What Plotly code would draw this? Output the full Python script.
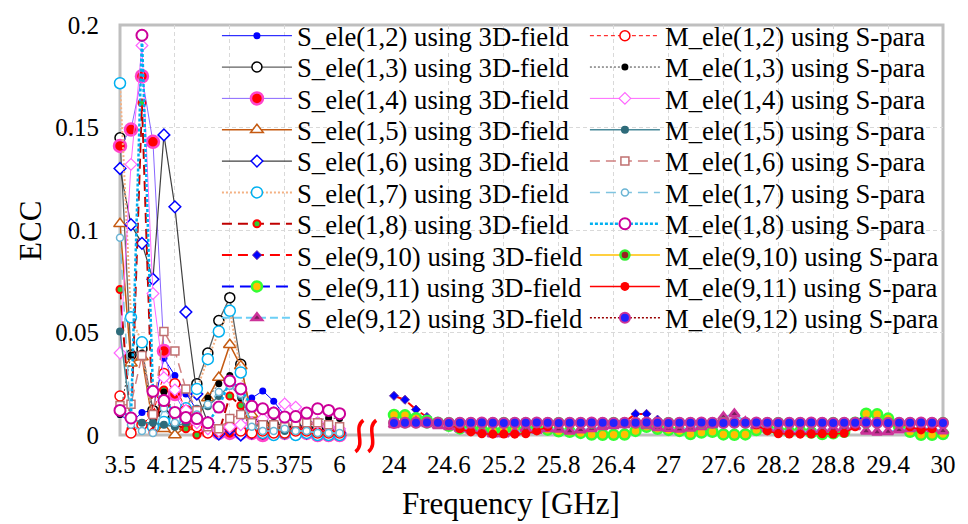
import plotly.graph_objects as go

# ---------------- data ----------------
x_low = [3.5, 3.625, 3.75, 3.875, 4.0, 4.125, 4.25, 4.375, 4.5, 4.625, 4.75,
         4.875, 5.0, 5.125, 5.25, 5.375, 5.5, 5.625, 5.75, 5.875, 6.0]
x_high = [24.0, 24.12, 24.24, 24.36, 24.48, 24.6, 24.72, 24.84, 24.96, 25.08,
          25.2, 25.32, 25.44, 25.56, 25.68, 25.8, 25.92, 26.04, 26.16, 26.28,
          26.4, 26.52, 26.64, 26.76, 26.88, 27.0, 27.12, 27.24, 27.36, 27.48,
          27.6, 27.72, 27.84, 27.96, 28.08, 28.2, 28.32, 28.44, 28.56, 28.68,
          28.8, 28.92, 29.04, 29.16, 29.28, 29.4, 29.52, 29.64, 29.76, 29.88, 30.0]

low_ticks = [3.5, 4.125, 4.75, 5.375, 6]
low_ticktext = ["3.5", "4.125", "4.75", "5.375", "6"]
high_ticks = [24, 24.6, 25.2, 25.8, 26.4, 27, 27.6, 28.2, 28.8, 29.4, 30]
high_ticktext = ["24", "24.6", "25.2", "25.8", "26.4", "27", "27.6", "28.2", "28.8", "29.4", "30"]
y_ticks = [0, 0.05, 0.1, 0.15, 0.2]
y_ticktext = ["0", "0.05", "0.1", "0.15", "0.2"]

S_ele_1_2 = [0.010, 0.006, 0.011, 0.012, 0.0375, 0.029, 0.020, 0.012, 0.004, 0.001, 0.003,
             0.005, 0.018, 0.0215, 0.0165, 0.0095, 0.005, 0.004, 0.003, 0.002, 0.002]
S_ele_1_3 = [0.145, 0.039, 0.042, 0.012, 0.010, 0.008, 0.012, 0.025, 0.040, 0.0558, 0.067,
             0.0345, 0.008, 0.006, 0.005, 0.004, 0.004, 0.003, 0.003, 0.002, 0.002]
S_ele_1_4 = [0.141, 0.149, 0.175, 0.143, 0.041, 0.020, 0.010, 0.006, 0.002, 0.001, 0.001,
             0.001, 0.001, 0.0, 0.001, 0.001, 0.001, 0.001, 0.0, 0.0, 0.0]
S_ele_1_5 = [0.103, 0.035, 0.038, 0.005, 0.003, 0.0, 0.004, 0.008, 0.018, 0.028, 0.044,
             0.0337, 0.010, 0.006, 0.004, 0.003, 0.002, 0.002, 0.001, 0.001, 0.001]
S_ele_1_6 = [0.130, 0.1026, 0.0935, 0.076, 0.1464, 0.1113, 0.060, 0.020, 0.006, 0.0005, 0.003,
             0.0, 0.001, 0.001, 0.001, 0.001, 0.001, 0.001, 0.001, 0.001, 0.001]
S_ele_1_7 = [0.1716, 0.0574, 0.0452, 0.004, 0.0064, 0.007, 0.013, 0.0225, 0.037, 0.0505, 0.0606,
             0.0305, 0.002, 0.001, 0.0, 0.001, 0.0, 0.001, 0.0, 0.0, 0.0]
S_ele_1_8 = [0.071, 0.003, 0.162, 0.0013, 0.022, 0.005, 0.003, 0.0, 0.002, 0.001, 0.019,
             0.0144, 0.0048, 0.003, 0.002, 0.003, 0.003, 0.005, 0.006, 0.004, 0.002]
M_ele_1_2 = [0.019, 0.001, 0.005, 0.010, 0.030, 0.025, 0.012, 0.004, 0.001, 0.002, 0.004,
             0.002, 0.001, 0.002, 0.001, 0.001, 0.002, 0.002, 0.001, 0.001, 0.001]
M_ele_1_3 = [0.010, 0.039, 0.040, 0.008, 0.021, 0.010, 0.008, 0.009, 0.018, 0.025, 0.029,
             0.018, 0.006, 0.004, 0.003, 0.004, 0.005, 0.006, 0.007, 0.0083, 0.008]
M_ele_1_4 = [0.040, 0.132, 0.190, 0.069, 0.028, 0.022, 0.012, 0.006, 0.003, 0.002, 0.004,
             0.005, 0.006, 0.008, 0.011, 0.0152, 0.0136, 0.010, 0.006, 0.004, 0.003]
M_ele_1_5 = [0.0505, 0.008, 0.006, 0.006, 0.005, 0.004, 0.006, 0.0128, 0.014, 0.019, 0.024,
             0.019, 0.005, 0.004, 0.003, 0.002, 0.002, 0.002, 0.001, 0.001, 0.001]
M_ele_1_6 = [0.0144, 0.015, 0.0388, 0.010, 0.0505, 0.041, 0.0225, 0.012, 0.004, 0.003, 0.008,
             0.010, 0.006, 0.005, 0.005, 0.004, 0.006, 0.006, 0.006, 0.005, 0.004]
M_ele_1_7 = [0.0962, 0.005, 0.002, 0.001, 0.013, 0.006, 0.008, 0.010, 0.015, 0.021, 0.024,
             0.020, 0.004, 0.002, 0.002, 0.003, 0.002, 0.002, 0.001, 0.001, 0.001]
M_ele_1_8 = [0.012, 0.0083, 0.195, 0.0213, 0.0168, 0.011, 0.0085, 0.008, 0.006, 0.0136, 0.0264,
             0.0225, 0.014, 0.0128, 0.0107, 0.0088, 0.009, 0.0107, 0.0128, 0.012, 0.0104]

S_ele_9_10 = [0.0191, 0.0172, 0.0124, 0.0088, 0.0062, 0.0060, 0.0059, 0.0060, 0.0061, 0.0060,
              0.0059, 0.0060, 0.0060, 0.0061, 0.0060, 0.0059, 0.0060, 0.0060, 0.0061, 0.0060,
              0.0060, 0.0064, 0.0103, 0.0103, 0.0075, 0.0060, 0.0059, 0.0060, 0.0061, 0.0060,
              0.0060, 0.0059, 0.0060, 0.0060, 0.0061, 0.0060, 0.0059, 0.0060, 0.0060, 0.0061,
              0.0060, 0.0059, 0.0060, 0.0060, 0.0061, 0.0060, 0.0059, 0.0060, 0.0060, 0.0061, 0.0060]
S_ele_9_11 = [0.0098, 0.0096, 0.0082, 0.0070, 0.0060, 0.0045, 0.0032, 0.0030, 0.0025, 0.0018,
              0.0024, 0.0027, 0.0025, 0.0030, 0.0026, 0.0018, 0.0016, 0.0010, 0.0002, 0.0001,
              0.0001, 0.0002, 0.0020, 0.0040, 0.0030, 0.0025, 0.0020, 0.0005, 0.0012, 0.0016,
              0.0003, 0.0001, 0.0003, 0.0024, 0.0030, 0.0020, 0.0015, 0.0018, 0.0012, 0.0005,
              0.0008, 0.0016, 0.0060, 0.0104, 0.0101, 0.0080, 0.0040, 0.0016, 0.0001, 0.0001, 0.0005]
S_ele_9_12 = [0.0050, 0.0055, 0.0065, 0.0055, 0.0045, 0.0040, 0.0030, 0.0025, 0.0018, 0.0005,
              0.0005, 0.0012, 0.0030, 0.0022, 0.0030, 0.0028, 0.0018, 0.0025, 0.0030, 0.0040,
              0.0045, 0.0050, 0.0058, 0.0045, 0.0035, 0.0032, 0.0028, 0.0033, 0.0040, 0.0050,
              0.0088, 0.0102, 0.0065, 0.0045, 0.0030, 0.0025, 0.0016, 0.0016, 0.0018, 0.0025,
              0.0030, 0.0035, 0.0040, 0.0018, 0.0014, 0.0016, 0.0025, 0.0030, 0.0035, 0.0030, 0.0020]
M_ele_9_10 = [0.0061, 0.0060, 0.0060, 0.0059, 0.0060, 0.0061, 0.0060, 0.0060, 0.0059, 0.0060,
              0.0061, 0.0060, 0.0060, 0.0059, 0.0060, 0.0061, 0.0060, 0.0060, 0.0059, 0.0060,
              0.0061, 0.0060, 0.0060, 0.0059, 0.0060, 0.0061, 0.0060, 0.0060, 0.0059, 0.0060,
              0.0061, 0.0060, 0.0060, 0.0059, 0.0060, 0.0061, 0.0060, 0.0060, 0.0059, 0.0060,
              0.0061, 0.0060, 0.0060, 0.0059, 0.0060, 0.0061, 0.0060, 0.0060, 0.0059, 0.0060, 0.0061]
M_ele_9_11 = [0.0060, 0.0060, 0.0061, 0.0060, 0.0058, 0.0050, 0.0030, 0.0015, 0.0006, 0.0004,
              0.0005, 0.0004, 0.0006, 0.0020, 0.0040, 0.0060, 0.0060, 0.0061, 0.0060, 0.0060,
              0.0059, 0.0060, 0.0060, 0.0061, 0.0060, 0.0060, 0.0059, 0.0060, 0.0060, 0.0061,
              0.0060, 0.0060, 0.0059, 0.0050, 0.0020, 0.0006, 0.0005, 0.0004, 0.0005, 0.0006,
              0.0005, 0.0008, 0.0040, 0.0060, 0.0060, 0.0061, 0.0060, 0.0040, 0.0025, 0.0030, 0.0060]
M_ele_9_12 = [0.0059, 0.0060, 0.0060, 0.0061, 0.0060, 0.0059, 0.0060, 0.0060, 0.0061, 0.0060,
              0.0059, 0.0060, 0.0060, 0.0061, 0.0060, 0.0059, 0.0060, 0.0060, 0.0061, 0.0060,
              0.0059, 0.0060, 0.0060, 0.0061, 0.0060, 0.0059, 0.0060, 0.0060, 0.0061, 0.0060,
              0.0059, 0.0060, 0.0060, 0.0061, 0.0060, 0.0059, 0.0060, 0.0060, 0.0061, 0.0060,
              0.0059, 0.0060, 0.0060, 0.0061, 0.0060, 0.0059, 0.0060, 0.0060, 0.0061, 0.0060, 0.0059]

# ---------------- styles ----------------
FONT = "Liberation Serif"
W, H = 968, 524
L, R, T, B = 120, 16, 19, 89
PW, PH = W - L - R, H - T - B


def px2paper(px, py):
    return (px - L) / PW, (H - B - py) / PH


series = [
    # name, x, y, axis, line color, width, dash, symbol, marker fill, marker line, mlw, size, column, row
    ("S_ele(1,2) using 3D-field", x_low, S_ele_1_2, "x", "#0000FF", 1, "solid", "circle", "#0000FF", "#0000FF", 0, 7, 0, 0),
    ("S_ele(1,3) using 3D-field", x_low, S_ele_1_3, "x", "#606060", 1.3, "solid", "circle", "white", "#000000", 1.5, 10, 0, 1),
    ("S_ele(1,4) using 3D-field", x_low, S_ele_1_4, "x", "#8866FF", 1, "solid", "circle", "#FF0000", "#FF44CC", 2.5, 12, 0, 2),
    ("S_ele(1,5) using 3D-field", x_low, S_ele_1_5, "x", "#C55A11", 1.5, "solid", "triangle-up", "white", "#C55A11", 1.5, 11, 0, 3),
    ("S_ele(1,6) using 3D-field", x_low, S_ele_1_6, "x", "#404040", 1.2, "solid", "diamond", "white", "#0000FF", 1.5, 9, 0, 4),
    ("S_ele(1,7) using 3D-field", x_low, S_ele_1_7, "x", "#F4B183", 2, "2px,2px", "circle", "white", "#00B0F0", 1.5, 11, 0, 5),
    ("S_ele(1,8) using 3D-field", x_low, S_ele_1_8, "x", "#C00000", 2, "10px,6px", "circle", "#33CC33", "#FF0000", 2, 7, 0, 6),
    ("S_ele(9,10) using 3D-field", x_high, S_ele_9_10, "x2", "#FF0000", 2, "10px,6px", "diamond", "#0000FF", "#7030A0", 1, 7, 0, 7),
    ("S_ele(9,11) using 3D-field", x_high, S_ele_9_11, "x2", "#0000FF", 2, "12px,6px", "circle", "#FFC000", "#33FF33", 2.5, 10, 0, 8),
    ("S_ele(9,12) using 3D-field", x_high, S_ele_9_12, "x2", "#6CCFF6", 2, "8px,4px", "triangle-up", "#7A1F5C", "#CC3399", 2.5, 9, 0, 9),
    ("M_ele(1,2) using S-para", x_low, M_ele_1_2, "x", "#FF0000", 1, "4px,3px", "circle", "white", "#FF0000", 1.5, 10, 1, 0),
    ("M_ele(1,3) using S-para", x_low, M_ele_1_3, "x", "#404040", 1, "2px,2px", "circle", "#000000", "#000000", 0, 7, 1, 1),
    ("M_ele(1,4) using S-para", x_low, M_ele_1_4, "x", "#FF66FF", 1, "solid", "diamond", "white", "#FF66FF", 1.2, 9, 1, 2),
    ("M_ele(1,5) using S-para", x_low, M_ele_1_5, "x", "#4A8A9A", 1.5, "solid", "circle", "#2E6B7A", "#2E6B7A", 0, 8, 1, 3),
    ("M_ele(1,6) using S-para", x_low, M_ele_1_6, "x", "#D08080", 1.5, "10px,6px", "square", "white", "#C07070", 1.5, 8, 1, 4),
    ("M_ele(1,7) using S-para", x_low, M_ele_1_7, "x", "#7FC4E0", 1.5, "10px,6px", "circle", "white", "#6AB4D4", 1.5, 7, 1, 5),
    ("M_ele(1,8) using S-para", x_low, M_ele_1_8, "x", "#00B0F0", 2.5, "3px,2px", "circle", "white", "#CC0099", 2, 11, 1, 6),
    ("M_ele(9,10) using S-para", x_high, M_ele_9_10, "x2", "#FFC000", 1.5, "solid", "circle", "#992222", "#33EE33", 2.5, 9, 1, 7),
    ("M_ele(9,11) using S-para", x_high, M_ele_9_11, "x2", "#FF0000", 1.5, "solid", "circle", "#FF0000", "#FF0000", 0, 9, 1, 8),
    ("M_ele(9,12) using S-para", x_high, M_ele_9_12, "x2", "#990000", 1.5, "2px,2px", "circle", "#2222FF", "#CC3399", 2, 10, 1, 9),
]

fig = go.Figure()
legend_layouts = {}
row_y0, row_dy = 30, 31.8
col_line_x = [222, 594]
for k, (name, xs, ys, xa, lc, lw, dash, sym, mfill, mline, mlw, msize, col, row) in enumerate(series):
    lname = "legend" if k == 0 else f"legend{k + 1}"
    fig.add_trace(go.Scatter(
        x=xs, y=ys, xaxis=xa, yaxis="y", name=name, mode="lines+markers",
        line=dict(color=lc, width=lw, dash=dash),
        marker=dict(symbol=sym, color=mfill, size=msize, line=dict(color=mline, width=mlw)),
        cliponaxis=False, legend=lname, showlegend=True,
    ))
    lx, ly = px2paper(col_line_x[col] - 4, row_y0 + row_dy * row)
    legend_layouts[lname] = dict(
        x=lx, y=ly, xanchor="left", yanchor="middle", bgcolor="rgba(0,0,0,0)",
        borderwidth=0, itemwidth=70, font=dict(family=FONT, size=26.7, color="black"),
        itemclick=False, visible=True,
    )

grid = dict(showgrid=True, gridcolor="#D9D9D9", griddash="4px,3px", gridwidth=1,
            zeroline=False, showline=False, ticks="", tickangle=0,
            tickfont=dict(family=FONT, size=25, color="black"))

lo_dom_end = (342 - L) / PW
hi_dom_start = (397 - L) / PW

fig.update_layout(
    width=W, height=H, margin=dict(l=L, r=R, t=T, b=B),
    paper_bgcolor="white", plot_bgcolor="white", showlegend=True,
    xaxis=dict(domain=[0, lo_dom_end], range=[3.5, 6], tickvals=low_ticks, ticktext=low_ticktext,
               anchor="y", ticklabelstandoff=12, **grid),
    xaxis2=dict(domain=[hi_dom_start, 1], range=[24, 30], tickvals=high_ticks, ticktext=high_ticktext,
                anchor="y", ticklabelstandoff=12, **grid),
    yaxis=dict(domain=[0, 1], range=[0, 0.2], tickvals=y_ticks, ticktext=y_ticktext,
               ticklabelstandoff=20, **grid),
    **legend_layouts,
)

# plot frame
fig.add_shape(type="rect", xref="paper", yref="paper", x0=0, x1=1, y0=0, y1=1,
              line=dict(color="#BFBFBF", width=3), layer="below")

# axis break squiggles
for cx in (362, 375):
    pts = [(cx + 4, 420), (cx - 7, 428), (cx + 7, 444), (cx - 4, 452)]
    pp = [px2paper(a, b) for a, b in pts]
    path = "M {:.5f},{:.5f} C {:.5f},{:.5f} {:.5f},{:.5f} {:.5f},{:.5f}".format(
        pp[0][0], pp[0][1], pp[1][0], pp[1][1], pp[2][0], pp[2][1], pp[3][0], pp[3][1])
    fig.add_shape(type="path", xref="paper", yref="paper", path=path,
                  line=dict(color="#FF0000", width=3.5))

# axis titles
tx, ty = px2paper(30, 228)
fig.add_annotation(text="ECC", xref="paper", yref="paper", x=tx, y=ty, showarrow=False,
                   textangle=-90, xanchor="center", yanchor="middle",
                   font=dict(family=FONT, size=31, color="black"))
tx, ty = px2paper(515, 505)
fig.add_annotation(text="Frequency [GHz]", xref="paper", yref="paper", x=tx, y=ty, showarrow=False,
                   xanchor="center", yanchor="middle",
                   font=dict(family=FONT, size=31, color="black"))

fig.write_html("out.html")
